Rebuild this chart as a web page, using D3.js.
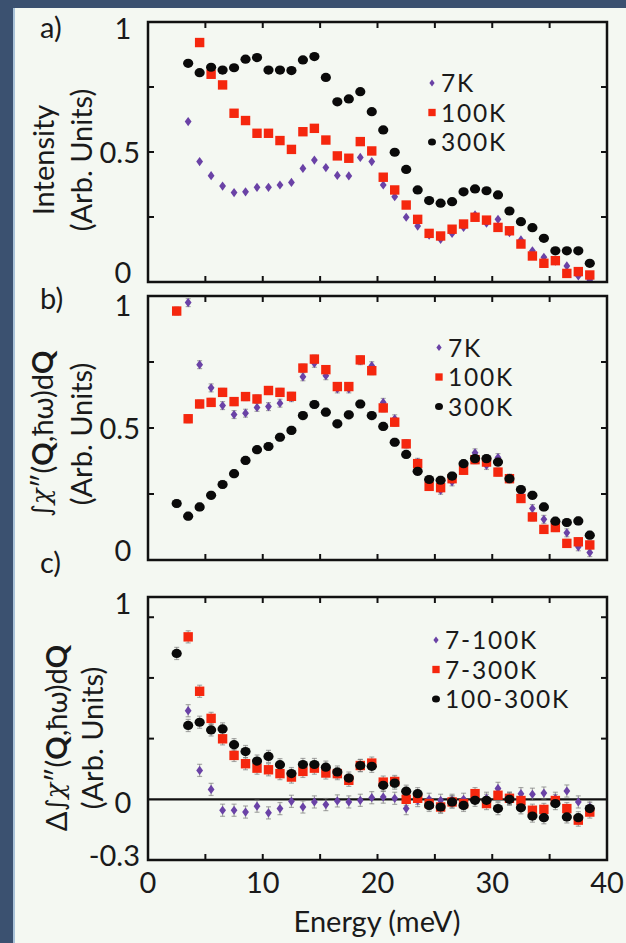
<!DOCTYPE html>
<html>
<head>
<meta charset="utf-8">
<script src="https://cdn.jsdelivr.net/npm/d3@7"></script>
<style>
  html, body { margin: 0; padding: 0; background: #3b5170; }
  svg { display: block; }
  text { font-family: Lato, "Open Sans", "DejaVu Sans", sans-serif; fill: #1a1a1a; }
</style>
</head>
<body>
<svg id="chart" width="626" height="943"></svg>
<script>
// ---------------- DATA ----------------
const xTicks = [5, 10, 15, 20, 25, 30, 35];
const xTickLabels = [0, 10, 20, 30, 40];

// Panel a: Intensity
const energyA = [3.5,4.5,5.5,6.5,7.5,8.5,9.5,10.5,11.5,12.5,13.5,14.5,15.5,16.5,17.5,18.5,19.5,20.5,21.5,22.5,23.5,24.5,25.5,26.5,27.5,28.5,29.5,30.5,31.5,32.5,33.5,34.5,35.5,36.5,37.5,38.5];
const a7K   = [0.617,0.463,0.409,0.369,0.344,0.347,0.364,0.364,0.373,0.383,0.437,0.469,0.440,0.410,0.408,0.479,0.463,0.373,0.328,0.249,0.215,0.180,0.164,0.187,0.210,0.258,0.226,0.241,0.190,0.162,0.120,0.095,0.080,0.062,0.023,0.008];
const a100K = [null,0.921,0.799,0.758,0.649,0.621,0.572,0.572,0.544,0.510,0.578,0.591,0.546,0.485,0.476,0.540,0.504,0.403,0.354,0.296,0.241,0.187,0.177,0.203,0.223,0.249,0.238,0.210,0.197,0.146,0.100,0.072,0.082,0.033,0.040,0.027];
const a300K = [0.841,0.805,0.826,0.815,0.824,0.857,0.863,0.815,0.815,0.813,0.854,0.867,0.787,0.693,0.704,0.732,0.655,0.585,0.499,0.433,0.354,0.313,0.303,0.309,0.347,0.358,0.351,0.335,0.273,0.232,0.209,0.168,0.120,0.120,0.120,0.072];
const yTicksA = [0.25, 0.5, 0.75];
const yLabelsA = ["1", "0.5", "0"];
const legendA = ["7K", "100K", "300K"];

// Panel b: integrated chi''
const energyB = [2.5,3.5,4.5,5.5,6.5,7.5,8.5,9.5,10.5,11.5,12.5,13.5,14.5,15.5,16.5,17.5,18.5,19.5,20.5,21.5,22.5,23.5,24.5,25.5,26.5,27.5,28.5,29.5,30.5,31.5,32.5,33.5,34.5,35.5,36.5,37.5,38.5];
const b7K   = [null,0.975,0.740,0.652,0.585,0.551,0.556,0.578,0.581,0.594,0.615,0.694,0.745,0.698,0.648,0.648,0.755,0.736,0.597,0.535,0.440,0.370,0.290,0.264,0.296,0.350,0.406,0.358,0.388,0.310,0.250,0.195,0.154,0.130,0.103,0.050,0.028];
const b100K = [0.943,0.535,0.591,0.597,0.635,0.600,0.619,0.610,0.642,0.635,0.620,0.727,0.761,0.721,0.657,0.657,0.758,0.717,0.576,0.522,0.440,0.365,0.279,0.274,0.308,0.340,0.380,0.371,0.333,0.308,0.233,0.163,0.116,0.123,0.063,0.069,0.057];
const b300K = [0.214,0.166,0.201,0.245,0.286,0.327,0.377,0.418,0.430,0.465,0.491,0.547,0.589,0.560,0.516,0.550,0.591,0.547,0.506,0.446,0.400,0.336,0.305,0.302,0.318,0.365,0.384,0.384,0.371,0.308,0.267,0.245,0.201,0.147,0.142,0.148,0.094];
const yTicksB = [0.25, 0.5, 0.75];
const yLabelsB = ["1", "0.5", "0"];
const legendB = ["7K", "100K", "300K"];

// Panel c: differences
const energyC = [2.5,3.5,4.5,5.5,6.5,7.5,8.5,9.5,10.5,11.5,12.5,13.5,14.5,15.5,16.5,17.5,18.5,19.5,20.5,21.5,22.5,23.5,24.5,25.5,26.5,27.5,28.5,29.5,30.5,31.5,32.5,33.5,34.5,35.5,36.5,37.5,38.5];
const c7_100K   = [null,0.438,0.143,0.049,-0.054,-0.054,-0.063,-0.034,-0.067,-0.046,-0.010,-0.038,-0.013,-0.026,-0.008,-0.013,-0.005,0.008,0.011,0.005,-0.046,-0.006,0.000,-0.005,-0.005,0.000,0.010,0.005,0.054,0.005,0.028,0.025,0.031,0.005,0.041,-0.013,-0.038];
const c7_300K   = [null,0.803,0.534,0.400,0.299,0.217,0.176,0.154,0.146,0.127,0.110,0.138,0.154,0.130,0.127,0.094,0.167,0.179,0.085,0.088,0.000,0.005,-0.021,-0.038,-0.013,-0.021,0.028,-0.021,0.020,0.005,-0.006,-0.054,-0.050,-0.006,-0.046,-0.103,-0.063];
const c100_300K = [0.721,0.365,0.381,0.343,0.348,0.270,0.236,0.189,0.212,0.171,0.127,0.172,0.172,0.159,0.135,0.105,0.167,0.163,0.069,0.080,0.040,0.028,-0.030,-0.038,-0.013,-0.030,-0.005,-0.005,-0.046,0.000,-0.042,-0.083,-0.091,-0.021,-0.087,-0.091,-0.046];
const yTicksC = [0.3, 0.6, 0.9];
const yLabelsC = ["1", "0", "-0.3"];
const legendC = ["7-100K", "7-300K", "100-300K"];

const errB = 0.015;
const errC = 0.03;

// ---------------- STYLE / LAYOUT ----------------
const COLORS = { purple: "#6a42a6", red: "#f5270e", black: "#0a0a0a" };
const FONT = 29;
const LEGEND_FONT = 24.5;
const LEGEND_STEP = 29.5;
const svg = d3.select("#chart");

svg.append("rect").attr("x", 0).attr("y", 0).attr("width", 626).attr("height", 943).attr("fill", "#3b5170");
svg.append("rect").attr("x", 14).attr("y", 8).attr("width", 612).attr("height", 935).attr("fill", "#f4f8f2");
svg.append("line").attr("x1", 14).attr("x2", 14).attr("y1", 8).attr("y2", 943).attr("stroke", "#a9c2d8").attr("stroke-width", 2);

const x = d3.scaleLinear().domain([0, 40]).range([148, 607]);

function marker(g, shape, cx, cy, big) {
  const s = big ? 1 : 0.78;
  if (shape === "diamond") {
    const w = 3.4 * s, h = 4.6 * s;
    g.append("path").attr("d", `M${cx},${cy - h}L${cx + w},${cy}L${cx},${cy + h}L${cx - w},${cy}Z`).attr("fill", COLORS.purple);
  } else if (shape === "square") {
    const a = 9.4 * s;
    g.append("rect").attr("x", cx - a / 2).attr("y", cy - a / 2).attr("width", a).attr("height", a).attr("fill", COLORS.red);
  } else {
    g.append("ellipse").attr("cx", cx).attr("cy", cy).attr("rx", 5.1 * s).attr("ry", 4.6 * s).attr("fill", COLORS.black);
  }
}

const panels = [
  { label: "a)", labelY: 38, top: 22, bottom: 282, domain: [0, 1], yTicks: yTicksA, yLabels: yLabelsA,
    labelVals: [1, 0.5, 0], labelDy: [6, 0, -10],
    energy: energyA, series: [a7K, a100K, a300K], legend: legendA, err: 0,
    legendX: 432, legendY: 83,
    titles: [{ text: ["Intensity"], x: 42 }, { text: ["(Arb. Units)"], x: 80 }], titleCY: 160 },
  { label: "b)", labelY: 309, top: 296, bottom: 560, domain: [0, 1], yTicks: yTicksB, yLabels: yLabelsB,
    labelVals: [1, 0.5, 0], labelDy: [9, 0, -10],
    energy: energyB, series: [b7K, b100K, b300K], legend: legendB, err: errB,
    legendX: 439, legendY: 347.5,
    titles: [{ chi: true, delta: false, x: 41 }, { text: ["(Arb. Units)"], x: 80 }], titleCY: 434 },
  { label: "c)", labelY: 573, top: 597, bottom: 860, domain: [-0.3, 1], yTicks: yTicksC, yLabels: yLabelsC,
    labelVals: [1, 0, -0.3], labelDy: [6, 3, -5],
    energy: energyC, series: [c7_100K, c7_300K, c100_300K], legend: legendC, err: errC,
    legendX: 436, legendY: 640, zeroLine: true,
    titles: [{ chi: true, delta: true, x: 55 }, { text: ["(Arb. Units)"], x: 91 }], titleCY: 738 }
];

const shapes = ["diamond", "square", "circle"];

panels.forEach(p => {
  const y = d3.scaleLinear().domain(p.domain).range([p.bottom, p.top]);
  const g = svg.append("g");
  const x0 = x.range()[0], x1 = x.range()[1];

  // panel letter
  g.append("text").attr("x", 40).attr("y", p.labelY).attr("font-size", FONT).text(p.label);

  // ticks (inward) on all sides
  const tl = 6;
  xTicks.forEach(t => {
    g.append("line").attr("x1", x(t)).attr("x2", x(t)).attr("y1", p.top).attr("y2", p.top + tl).attr("stroke", "#111").attr("stroke-width", 2);
    g.append("line").attr("x1", x(t)).attr("x2", x(t)).attr("y1", p.bottom).attr("y2", p.bottom - tl).attr("stroke", "#111").attr("stroke-width", 2);
  });
  p.yTicks.forEach(t => {
    g.append("line").attr("x1", x0).attr("x2", x0 + tl).attr("y1", y(t)).attr("y2", y(t)).attr("stroke", "#111").attr("stroke-width", 2);
    g.append("line").attr("x1", x1).attr("x2", x1 - tl).attr("y1", y(t)).attr("y2", y(t)).attr("stroke", "#111").attr("stroke-width", 2);
  });

  if (p.zeroLine) {
    g.append("line").attr("x1", x0).attr("x2", x1).attr("y1", y(0)).attr("y2", y(0)).attr("stroke", "#111").attr("stroke-width", 2.2);
  }

  // y labels
  p.yLabels.forEach((lab, i) => {
    const isDec = lab.length > 1;
    g.append("text")
      .attr("x", isDec ? 140 : 123)
      .attr("y", y(p.labelVals[i]) + p.labelDy[i] + 10.5)
      .attr("text-anchor", isDec ? "end" : "middle")
      .attr("font-size", FONT).text(lab);
  });

  // y titles (rotated)
  p.titles.forEach(t => {
    const tx = g.append("text")
      .attr("transform", `translate(${t.x},${p.titleCY}) rotate(-90)`)
      .attr("text-anchor", "middle").attr("dominant-baseline", "central")
      .attr("font-size", FONT);
    if (t.chi) {
      if (t.delta) tx.append("tspan").text("Δ");
      tx.append("tspan").attr("font-family", "DejaVu Sans").attr("font-size", FONT - 4).text("∫");
      tx.append("tspan").attr("font-family", "DejaVu Serif").attr("font-style", "italic").attr("font-size", FONT - 3).text("χ");
      tx.append("tspan").text("″(");
      tx.append("tspan").attr("font-weight", "bold").text("Q");
      tx.append("tspan").text(",ħω)d");
      tx.append("tspan").attr("font-weight", "bold").text("Q");
    } else {
      tx.text(t.text[0]);
    }
  });

  // data
  const clipId = "clip" + p.label[0];
  svg.append("clipPath").attr("id", clipId).append("rect")
    .attr("x", x0).attr("y", p.top).attr("width", x1 - x0).attr("height", p.bottom - p.top);
  const dg = g.append("g").attr("clip-path", `url(#${clipId})`);

  if (p.err > 0) {
    const eg = dg.append("g").attr("stroke", "#777").attr("stroke-opacity", 0.6).attr("stroke-width", 1.2);
    p.series.forEach(s => {
      s.forEach((v, i) => {
        if (v === null) return;
        const cx = x(p.energy[i]);
        const yHi = y(v + p.err), yLo = y(v - p.err);
        eg.append("line").attr("x1", cx).attr("x2", cx).attr("y1", yHi).attr("y2", yLo);
        eg.append("line").attr("x1", cx - 2.5).attr("x2", cx + 2.5).attr("y1", yHi).attr("y2", yHi);
        eg.append("line").attr("x1", cx - 2.5).attr("x2", cx + 2.5).attr("y1", yLo).attr("y2", yLo);
      });
    });
  }

  p.series.forEach((s, si) => {
    s.forEach((v, i) => {
      if (v === null) return;
      marker(dg, shapes[si], x(p.energy[i]), y(v), true);
    });
  });

  // frame
  g.append("rect").attr("x", x0).attr("y", p.top).attr("width", x1 - x0).attr("height", p.bottom - p.top)
    .attr("fill", "none").attr("stroke", "#111").attr("stroke-width", 2.5);

  // legend
  p.legend.forEach((name, i) => {
    const ly = p.legendY + i * LEGEND_STEP;
    marker(g, shapes[i], p.legendX, ly, false);
    g.append("text").attr("x", p.legendX + 9).attr("y", ly + 9)
      .attr("font-size", LEGEND_FONT).attr("letter-spacing", 1.8).text(name);
  });
});

// x tick labels (bottom panel)
xTickLabels.forEach(t => {
  svg.append("text").attr("x", x(t)).attr("y", 893).attr("text-anchor", "middle").attr("font-size", FONT).text(t);
});
svg.append("text").attr("x", 377).attr("y", 932).attr("text-anchor", "middle").attr("font-size", FONT).text("Energy (meV)");
</script>
</body>
</html>
